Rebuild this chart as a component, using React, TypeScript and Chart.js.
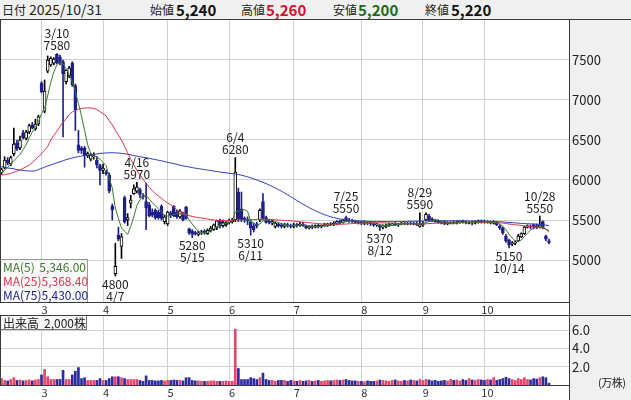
import React, { useEffect, useRef } from "react";
import { Chart, registerables } from "chart.js";

Chart.register(...registerables);

const FONT = "'Noto Sans CJK JP', 'Noto Sans', sans-serif";
const YEAR = "2025";

// trading days shown, by month
const tradingMonths = [2, 3, 4, 5, 6, 7, 8, 9, 10];
const febDays = [10, 12, 13, 14, 17, 18, 19, 20, 21, 25, 26, 27, 28];
const marDays = [3, 4, 5, 6, 7, 10, 11, 12, 13, 14, 17, 18, 19, 21, 24, 25, 26, 27, 28, 31];
const aprDays = [1, 2, 3, 4, 7, 8, 9, 10, 11, 14, 15, 16, 17, 18, 21, 22, 23, 24, 25, 28, 30];
const mayDays = [1, 2, 7, 8, 9, 12, 13, 14, 15, 16, 19, 20, 21, 22, 23, 26, 27, 28, 29, 30];
const junDays = [2, 3, 4, 5, 6, 9, 10, 11, 12, 13, 16, 17, 18, 19, 20, 23, 24, 25, 26, 27, 30];
const julDays = [1, 2, 3, 4, 7, 8, 9, 10, 11, 14, 15, 16, 17, 18, 22, 23, 24, 25, 28, 29, 30, 31];
const augDays = [1, 4, 5, 6, 7, 8, 12, 13, 14, 15, 18, 19, 20, 21, 22, 25, 26, 27, 28, 29];
const sepDays = [1, 2, 3, 4, 5, 8, 9, 10, 11, 12, 16, 17, 18, 19, 22, 24, 25, 26, 29, 30];
const octDays = [1, 2, 3, 6, 7, 8, 9, 10, 14, 15, 16, 17, 20, 21, 22, 23, 24, 27, 28, 29, 30, 31];
const tradingDays = [febDays, marDays, aprDays, mayDays, junDays, julDays, augDays, sepDays, octDays];

const open = [
  6090, 6150, 6250, 6200, 6330, 6460, 6400, 6590, 6520, 6600, 6690, 6640, 6700,
  7210, 6860, 7360, 7440, 7460, 7570, 7540, 7480, 7230, 7300, 7460, 7180, 6440, 6400, 6400, 6300, 6260, 6290, 6250, 6180,
  6120, 6100, 6060, 5670, 4830, 5310, 5170, 5780, 5500, 5710, 5830, 5860, 5880, 5800, 5730, 5690, 5600, 5620, 5600, 5670, 5480,
  5450, 5590, 5670, 5600, 5540, 5580, 5660, 5390, 5360, 5340, 5320, 5340, 5360, 5330, 5370, 5380, 5400, 5500, 5430, 5440,
  5470, 5480, 5500, 5850, 5640, 5520, 5510, 5480, 5420, 5450, 5500, 5730, 5530, 5480, 5460, 5420, 5450, 5440, 5420, 5440, 5430,
  5420, 5440, 5430, 5450, 5420, 5400, 5420, 5410, 5430, 5420, 5430, 5440, 5450, 5440, 5460, 5480, 5470, 5530, 5500, 5490, 5480, 5470,
  5480, 5460, 5470, 5460, 5450, 5440, 5430, 5410, 5420, 5430, 5440, 5450, 5440, 5450, 5460, 5450, 5460, 5450, 5460, 5420,
  5440, 5500, 5550, 5510, 5490, 5480, 5470, 5480, 5450, 5460, 5470, 5460, 5470, 5480, 5470, 5460, 5470, 5460, 5470, 5490,
  5480, 5470, 5480, 5460, 5470, 5420, 5400, 5300, 5250, 5200, 5210, 5240, 5290, 5330, 5410, 5420, 5440, 5430, 5410, 5480, 5300, 5240,
];
const high = [
  6150, 6290, 6280, 6300, 6650, 6500, 6550, 6620, 6620, 6700, 6720, 6760, 6810,
  7230, 7250, 7550, 7540, 7530, 7580, 7560, 7500, 7380, 7420, 7480, 7200, 6620, 6420, 6420, 6350, 6330, 6340, 6290, 6200,
  6200, 6120, 6090, 5700, 5210, 5410, 5330, 5800, 5580, 5810, 5940, 5970, 5900, 5830, 5960, 5720, 5640, 5640, 5620, 5690, 5560,
  5610, 5610, 5680, 5620, 5630, 5600, 5670, 5400, 5380, 5360, 5360, 5370, 5380, 5390, 5420, 5450, 5500, 5510, 5500, 5480,
  5510, 5520, 6280, 5900, 5850, 5540, 5540, 5500, 5460, 5470, 5640, 5830, 5550, 5500, 5500, 5470, 5460, 5460, 5460, 5460, 5450,
  5460, 5460, 5470, 5470, 5440, 5430, 5440, 5440, 5450, 5440, 5460, 5460, 5470, 5480, 5490, 5500, 5510, 5550, 5520, 5510, 5500, 5490,
  5490, 5490, 5480, 5480, 5470, 5460, 5440, 5440, 5450, 5460, 5460, 5470, 5460, 5470, 5480, 5470, 5480, 5470, 5480, 5590,
  5480, 5590, 5570, 5530, 5510, 5500, 5490, 5490, 5480, 5480, 5490, 5490, 5490, 5500, 5490, 5480, 5490, 5490, 5500, 5500,
  5500, 5490, 5490, 5490, 5480, 5440, 5410, 5320, 5260, 5230, 5240, 5320, 5340, 5420, 5440, 5440, 5450, 5450, 5550, 5490, 5310, 5260,
];
const low = [
  6070, 6140, 6190, 6180, 6300, 6370, 6380, 6510, 6500, 6580, 6640, 6620, 6680,
  7090, 6840, 7340, 7420, 7440, 7450, 7440, 6540, 7200, 7280, 7170, 6620, 6340, 6330, 6160, 6280, 6240, 6260, 6150, 5940,
  6080, 6060, 5840, 5500, 4800, 5240, 5020, 5460, 5430, 5650, 5820, 5840, 5780, 5760, 5380, 5540, 5540, 5510, 5510, 5500, 5450,
  5430, 5530, 5540, 5520, 5520, 5490, 5510, 5320, 5280, 5310, 5300, 5320, 5320, 5320, 5350, 5370, 5380, 5400, 5410, 5420,
  5450, 5460, 5480, 5480, 5480, 5470, 5440, 5310, 5350, 5400, 5480, 5500, 5460, 5450, 5440, 5400, 5410, 5400, 5400, 5410, 5400,
  5400, 5410, 5420, 5420, 5390, 5390, 5390, 5400, 5400, 5400, 5420, 5420, 5430, 5430, 5440, 5450, 5460, 5480, 5470, 5470, 5460, 5450,
  5440, 5440, 5440, 5430, 5420, 5420, 5370, 5390, 5400, 5420, 5430, 5430, 5420, 5440, 5440, 5440, 5440, 5440, 5430, 5410,
  5420, 5490, 5490, 5480, 5470, 5460, 5450, 5440, 5440, 5450, 5450, 5450, 5460, 5460, 5450, 5450, 5440, 5450, 5460, 5460,
  5460, 5460, 5450, 5450, 5430, 5380, 5320, 5220, 5150, 5180, 5190, 5230, 5280, 5320, 5400, 5390, 5390, 5390, 5400, 5390, 5240, 5200,
];
const close = [
  6130, 6250, 6210, 6280, 6450, 6390, 6500, 6530, 6600, 6680, 6650, 6700, 6790,
  7100, 7110, 7500, 7520, 7510, 7460, 7460, 7330, 7370, 7400, 7190, 6880, 6370, 6370, 6310, 6330, 6310, 6300, 6190, 6120,
  6150, 6080, 5860, 5630, 4920, 5260, 5290, 5480, 5530, 5750, 5890, 5910, 5820, 5790, 5650, 5550, 5560, 5530, 5530, 5520, 5540,
  5600, 5560, 5550, 5540, 5610, 5500, 5520, 5340, 5320, 5330, 5340, 5350, 5340, 5370, 5400, 5440, 5490, 5430, 5470, 5460,
  5490, 5500, 6100, 5510, 5500, 5500, 5490, 5400, 5380, 5430, 5620, 5520, 5470, 5470, 5480, 5460, 5430, 5420, 5440, 5430, 5420,
  5440, 5430, 5450, 5430, 5400, 5420, 5410, 5430, 5420, 5430, 5440, 5450, 5440, 5460, 5480, 5470, 5500, 5490, 5490, 5480, 5470, 5480,
  5460, 5470, 5460, 5450, 5440, 5450, 5410, 5420, 5430, 5440, 5450, 5440, 5450, 5460, 5450, 5460, 5450, 5460, 5440, 5440,
  5460, 5570, 5500, 5490, 5480, 5470, 5460, 5450, 5460, 5470, 5460, 5470, 5480, 5470, 5460, 5470, 5460, 5480, 5490, 5480,
  5470, 5480, 5460, 5470, 5440, 5400, 5340, 5240, 5190, 5210, 5220, 5300, 5330, 5410, 5420, 5410, 5410, 5410, 5440, 5400, 5260, 5220,
];
// volume in 万株
const volume = [
  0.7, 0.5, 0.45, 0.6, 0.8, 0.5, 0.55, 0.45, 0.5, 0.55, 0.45, 0.55, 0.6,
  1.1, 1.7, 0.9, 0.6, 0.6, 0.6, 0.6, 1.6, 0.6, 0.6, 1.1, 1.5, 1.9, 0.7, 0.8, 0.5, 0.5, 0.5, 0.5, 0.7,
  0.5, 0.5, 0.7, 0.9, 0.9, 0.9, 0.8, 0.7, 0.6, 0.6, 0.6, 0.6, 0.5, 0.4, 1.0, 0.5, 0.5, 0.45, 0.45, 0.5, 0.45,
  0.5, 0.5, 0.55, 0.5, 0.5, 0.45, 0.8, 0.8, 0.5, 0.45, 0.45, 0.4, 0.4, 0.4, 0.45, 0.45, 0.4, 0.4, 0.4, 0.45,
  0.4, 0.4, 6.1, 1.8, 0.6, 0.6, 0.6, 0.8, 0.7, 0.6, 0.8, 1.3, 0.6, 0.5, 0.5, 0.4, 0.5, 0.5, 0.5, 0.4, 0.5,
  0.45, 0.4, 0.5, 0.4, 0.45, 0.5, 0.4, 0.45, 0.5, 0.4, 0.45, 0.5, 0.45, 0.5, 0.55, 0.5, 0.55, 0.6, 0.5, 0.45, 0.45, 0.4,
  0.4, 0.35, 0.45, 0.4, 0.4, 0.45, 0.55, 0.5, 0.45, 0.4, 0.5, 0.55, 0.45, 0.4, 0.5, 0.45, 0.55, 0.5, 0.45, 0.6,
  0.5, 0.6, 0.55, 0.45, 0.5, 0.4, 0.45, 0.5, 0.45, 0.6, 0.5, 0.55, 0.45, 0.6, 0.5, 0.7, 0.55, 0.5, 0.6, 0.55,
  0.5, 0.6, 0.55, 0.8, 0.5, 0.6, 0.7, 0.85, 0.7, 0.6, 0.5, 0.7, 0.6, 0.8, 0.6, 0.55, 0.7, 0.65, 0.8, 0.9, 0.8, 0.2,
];
const ma5 = [
  6090, 6120, 6160, 6200, 6240, 6280, 6320, 6380, 6440, 6530, 6600, 6660, 6730,
  6830, 6900, 7050, 7220, 7350, 7440, 7480, 7450, 7390, 7320, 7230, 7100, 6960, 6800, 6620, 6440, 6330, 6300, 6290, 6260,
  6220, 6180, 6030, 5900, 5650, 5520, 5400, 5360, 5320, 5420, 5540, 5680, 5750, 5800, 5810, 5760, 5720, 5680, 5640, 5600, 5560,
  5550, 5560, 5570, 5580, 5580, 5570, 5560, 5500, 5450, 5400, 5360, 5340, 5340, 5350, 5360, 5390, 5420, 5440, 5460, 5460,
  5470, 5480, 5600, 5610, 5620, 5630, 5610, 5480, 5460, 5440, 5450, 5490, 5500, 5510, 5500, 5480, 5470, 5450, 5440, 5430, 5430,
  5430, 5430, 5435, 5440, 5430, 5425, 5420, 5415, 5415, 5420, 5425, 5430, 5435, 5445, 5455, 5460, 5470, 5480, 5490, 5490, 5488, 5485,
  5478, 5472, 5466, 5462, 5456, 5452, 5442, 5434, 5430, 5430, 5430, 5436, 5442, 5448, 5450, 5452, 5454, 5456, 5454, 5450,
  5450, 5470, 5480, 5490, 5500, 5502, 5480, 5470, 5464, 5462, 5462, 5464, 5466, 5470, 5470, 5468, 5466, 5468, 5472, 5476,
  5478, 5478, 5476, 5470, 5464, 5448, 5422, 5378, 5322, 5276, 5240, 5232, 5250, 5294, 5336, 5374, 5396, 5412, 5418, 5416, 5384, 5346,
];
const ma25 = [
  6062, 6068, 6075, 6083, 6097, 6111, 6125, 6145, 6165, 6185, 6220, 6255, 6290,
  6330, 6370, 6420, 6500, 6560, 6610, 6670, 6720, 6765, 6820, 6850, 6870, 6885, 6895, 6900, 6902, 6900, 6895, 6880, 6855,
  6830, 6800, 6740, 6690, 6620, 6560, 6500, 6420, 6340, 6260, 6190, 6120, 6060, 6010, 5960, 5910, 5870, 5830, 5800, 5770, 5740,
  5710, 5690, 5660, 5630, 5605, 5585, 5570, 5555, 5545, 5537, 5530, 5525, 5520, 5512, 5506, 5500, 5495, 5492, 5490, 5490,
  5492, 5495, 5498, 5500, 5502, 5503, 5505, 5506, 5507, 5508, 5508, 5508, 5507, 5505, 5503, 5502, 5500, 5498, 5495, 5492, 5490,
  5486, 5482, 5478, 5474, 5470, 5466, 5462, 5458, 5455, 5452, 5450, 5448, 5446, 5445, 5445, 5446, 5448, 5450, 5452, 5455, 5458, 5460,
  5462, 5463, 5464, 5465, 5466, 5466, 5465, 5464, 5463, 5461, 5459, 5457, 5455, 5454, 5453, 5452, 5451, 5450, 5450, 5450,
  5451, 5453, 5455, 5457, 5459, 5461, 5462, 5463, 5464, 5465, 5466, 5467, 5468, 5469, 5470, 5470, 5470, 5470, 5471, 5472,
  5472, 5472, 5471, 5470, 5468, 5465, 5461, 5456, 5450, 5445, 5440, 5436, 5432, 5428, 5424, 5420, 5416, 5412, 5407, 5400, 5385, 5368.4,
];
const ma75 = [
  6170, 6160, 6150, 6145, 6140, 6130, 6125, 6120, 6115, 6112, 6112, 6115, 6130,
  6145, 6160, 6175, 6187, 6200, 6215, 6229, 6240, 6255, 6265, 6275, 6285, 6292, 6300, 6305, 6310, 6312, 6318, 6325, 6333,
  6336, 6338, 6340, 6341, 6340, 6337, 6333, 6328, 6322, 6315, 6305, 6298, 6291, 6284, 6278, 6271, 6263, 6255, 6247, 6240, 6230,
  6222, 6212, 6205, 6195, 6185, 6177, 6170, 6162, 6155, 6148, 6142, 6136, 6130, 6124, 6118, 6112, 6106, 6100, 6095, 6090,
  6085, 6080, 6075, 6068, 6060, 6050, 6040, 6028, 6015, 6000, 5985, 5970, 5955, 5938, 5920, 5900, 5880, 5860, 5838, 5815, 5792,
  5768, 5744, 5720, 5698, 5676, 5655, 5635, 5616, 5598, 5582, 5567, 5553, 5540, 5530, 5521, 5513, 5506, 5500, 5496, 5492, 5490, 5488,
  5486, 5485, 5484, 5483, 5482, 5481, 5480, 5480, 5479, 5479, 5479, 5480, 5480, 5481, 5482, 5483, 5484, 5485, 5486, 5487,
  5488, 5489, 5490, 5490, 5490, 5490, 5490, 5490, 5490, 5490, 5489, 5489, 5488, 5488, 5487, 5487, 5486, 5486, 5485, 5485,
  5484, 5483, 5482, 5481, 5480, 5478, 5476, 5473, 5470, 5467, 5464, 5461, 5458, 5456, 5454, 5452, 5450, 5448, 5446, 5442, 5436, 5430,
];

const priceTicks = [5000, 5500, 6000, 6500, 7000, 7500];
const volumeTicks = [2, 4, 6];
const markers = [
  { date: "3/10", side: "high" },
  { date: "4/7", side: "low" },
  { date: "4/16", side: "high" },
  { date: "5/15", side: "low" },
  { date: "6/4", side: "high" },
  { date: "6/11", side: "low" },
  { date: "7/25", side: "high" },
  { date: "8/12", side: "low" },
  { date: "8/29", side: "high" },
  { date: "10/14", side: "low" },
  { date: "10/28", side: "high" },
];

const TOTAL_SLOTS = 185;

// colours
const DOWN = "#1f1f8c";
const VOL_UP = "#e4486a";
const VOL_DOWN = "#2c2c9e";
const VOL_FLAT = "#a8a8a8";
const MA_COLORS = ["#3b7a30", "#d8364c", "#2d3fbd"];
const GRID = "#cfcfcf";
const PANEL = "#f0f0f0";
const FRAME = "#3a3a3a";

// derived labels
const dates: string[] = [];
const monthTick: Record<number, string> = {};
tradingMonths.forEach((m, k) => {
  tradingDays[k].forEach((d, j) => {
    if (j === 0 && k > 0) monthTick[dates.length] = String(m);
    dates.push(`${m}/${d}`);
  });
});
const labels = Array.from({ length: TOTAL_SLOTS }, (_, i) => dates[i] ?? `pad${i}`);
const last = close.length - 1;
const fmt = (v: number, d = 0) =>
  v.toLocaleString("en-US", { minimumFractionDigits: d, maximumFractionDigits: d });

function xScale(h: number) {
  return {
    type: "category",
    offset: true,
    grid: {
      offset: false,
      drawTicks: false,
      color: (c: any) => (monthTick[c.index] ? GRID : "rgba(0,0,0,0)"),
    },
    border: { display: false },
    ticks: {
      autoSkip: false,
      maxRotation: 0,
      minRotation: 0,
      padding: 1,
      labelOffset: 3,
      color: "#333",
      font: { size: 11, family: FONT },
      callback: (_v: any, i: number) => monthTick[i] ?? "",
    },
    afterFit: (s: any) => {
      s.height = h;
      s.paddingLeft = 0;
      s.paddingRight = 0;
    },
  };
}

function yAfterFit(s: any) {
  s.width = 62;
  s.paddingTop = 0;
  s.paddingBottom = 0;
}

function framePlugin(topLine: boolean) {
  return {
    id: "frame",
    beforeDraw(chart: any) {
      const { ctx, chartArea: a, width, height } = chart;
      ctx.save();
      ctx.fillStyle = "#fff";
      ctx.fillRect(0, 0, width, height);
      ctx.fillStyle = PANEL;
      ctx.fillRect(a.right, 0, width - a.right, height);
      ctx.restore();
    },
    afterDraw(chart: any) {
      const { ctx, chartArea: a, width, height } = chart;
      ctx.save();
      ctx.strokeStyle = FRAME;
      ctx.lineWidth = 1;
      ctx.beginPath();
      ctx.moveTo(a.right + 0.5, 0);
      ctx.lineTo(a.right + 0.5, height);
      ctx.moveTo(0, a.bottom + 0.5);
      ctx.lineTo(a.right, a.bottom + 0.5);
      ctx.moveTo(0.5, 0);
      ctx.lineTo(0.5, a.bottom);
      if (topLine) {
        ctx.moveTo(0, 0.5);
        ctx.lineTo(width, 0.5);
      }
      ctx.stroke();
      ctx.restore();
    },
  };
}

const markerPlugin = {
  id: "markers",
  afterDatasetsDraw(chart: any) {
    const { ctx, scales } = chart;
    ctx.save();
    ctx.font = `12px ${FONT}`;
    ctx.fillStyle = "#1a1a1a";
    ctx.textAlign = "center";
    ctx.textBaseline = "middle";
    markers.forEach((m) => {
      const i = dates.indexOf(m.date);
      if (i < 0) return;
      const price = m.side === "high" ? high[i] : low[i];
      const px = scales.x.getPixelForValue(i);
      const py = scales.y.getPixelForValue(price);
      if (m.side === "high") {
        ctx.fillText(m.date, px, py - 20);
        ctx.fillText(String(price), px, py - 8);
      } else {
        ctx.fillText(String(price), px, py + 8);
        ctx.fillText(m.date, px, py + 20);
      }
    });
    ctx.restore();
  },
};

export default function App() {
  const priceRef = useRef<HTMLCanvasElement>(null);
  const volRef = useRef<HTMLCanvasElement>(null);

  useEffect(() => {
    const isUp = close.map((c, i) => c >= open[i]);
    const priceChart = new Chart(priceRef.current as HTMLCanvasElement, {
      type: "bar",
      data: {
        labels,
        datasets: [
          { type: "line", data: ma5, borderColor: MA_COLORS[0], borderWidth: 1, pointRadius: 0, order: 1 },
          { type: "line", data: ma25, borderColor: MA_COLORS[1], borderWidth: 1, pointRadius: 0, order: 1 },
          { type: "line", data: ma75, borderColor: MA_COLORS[2], borderWidth: 1, pointRadius: 0, order: 1 },
          {
            type: "bar",
            data: open.map((o, i) => [o, close[i]]),
            backgroundColor: isUp.map((u) => (u ? "#ffffff" : DOWN)),
            borderColor: isUp.map((u) => (u ? "#000000" : DOWN)),
            borderWidth: 1,
            borderSkipped: false,
            barThickness: 3,
            minBarLength: 1,
            grouped: false,
            order: 2,
          },
          {
            type: "bar",
            data: low.map((l, i) => [l, high[i]]),
            backgroundColor: isUp.map((u) => (u ? "#000000" : DOWN)),
            barThickness: 1,
            grouped: false,
            order: 3,
          },
        ] as any,
      },
      options: {
        animation: false,
        responsive: false,
        devicePixelRatio: 1,
        events: [],
        layout: { padding: 0 },
        plugins: { legend: { display: false }, tooltip: { enabled: false } },
        scales: {
          x: xScale(13) as any,
          y: {
            position: "right",
            min: 4475,
            max: 8000,
            afterBuildTicks: (s: any) => {
              s.ticks = priceTicks.map((v) => ({ value: v }));
            },
            grid: { color: GRID, drawTicks: false },
            border: { display: false },
            ticks: {
              padding: 3,
              color: "#222",
              font: { size: 13, family: FONT },
              callback: (v: any) => String(v),
            },
            afterFit: yAfterFit,
          } as any,
        },
      },
      plugins: [framePlugin(false), markerPlugin],
    });

    const volChart = new Chart(volRef.current as HTMLCanvasElement, {
      type: "bar",
      data: {
        labels,
        datasets: [
          {
            data: volume,
            backgroundColor: close.map((c, i) =>
              c > open[i] ? VOL_UP : c < open[i] ? VOL_DOWN : VOL_FLAT
            ),
            barThickness: 2,
            grouped: false,
          } as any,
        ],
      },
      options: {
        animation: false,
        responsive: false,
        devicePixelRatio: 1,
        events: [],
        layout: { padding: 0 },
        plugins: { legend: { display: false }, tooltip: { enabled: false } },
        scales: {
          x: xScale(15) as any,
          y: {
            position: "right",
            min: 0,
            max: 7.64,
            afterBuildTicks: (s: any) => {
              s.ticks = volumeTicks.map((v) => ({ value: v }));
            },
            grid: { color: GRID, drawTicks: false },
            border: { display: false },
            ticks: {
              padding: 3,
              color: "#222",
              font: { size: 13, family: FONT },
              callback: (v: any) => Number(v).toFixed(1),
            },
            afterFit: yAfterFit,
          } as any,
        },
      },
      plugins: [framePlugin(true)],
    });

    return () => {
      priceChart.destroy();
      volChart.destroy();
    };
  }, []);

  const abs: React.CSSProperties = { position: "absolute", top: 0, lineHeight: "19px", whiteSpace: "nowrap" };
  const lab: React.CSSProperties = { ...abs, fontSize: 12, color: "#222" };
  const num: React.CSSProperties = { ...abs, fontSize: 15, fontWeight: 700, color: "#111" };

  const maRows = [
    { name: "MA(5)", value: ma5[last], color: MA_COLORS[0] },
    { name: "MA(25)", value: ma25[last], color: MA_COLORS[1] },
    { name: "MA(75)", value: ma75[last], color: "#1f1f8c" },
  ];

  return (
    <div
      style={{
        position: "fixed",
        left: 0,
        top: 0,
        width: 631,
        height: 400,
        background: "#fff",
        overflow: "hidden",
        fontFamily: FONT,
      }}
    >
      <div
        style={{
          position: "absolute",
          left: 0,
          top: 0,
          width: 631,
          height: 19,
          background: PANEL,
          borderBottom: `1px solid ${FRAME}`,
        }}
      >
        <span style={{ ...lab, left: 2 }}>日付</span>
        <span style={{ ...abs, left: 29, fontSize: 14, color: "#222" }}>{`${YEAR}/${dates[last]
          .split("/")
          .map((p) => p.padStart(2, "0"))
          .join("/")}`}</span>
        <span style={{ ...lab, left: 150 }}>始値</span>
        <span style={{ ...num, left: 176 }}>{fmt(open[last])}</span>
        <span style={{ ...lab, left: 241 }}>高値</span>
        <span style={{ ...num, left: 266, color: "#d4102c" }}>{fmt(high[last])}</span>
        <span style={{ ...lab, left: 333 }}>安値</span>
        <span style={{ ...num, left: 358, color: "#1d6b1d" }}>{fmt(low[last])}</span>
        <span style={{ ...lab, left: 425 }}>終値</span>
        <span style={{ ...num, left: 451 }}>{fmt(close[last])}</span>
      </div>

      <canvas
        ref={priceRef}
        width={631}
        height={295}
        style={{ position: "absolute", left: 0, top: 20, width: 631, height: 295 }}
      />
      <canvas
        ref={volRef}
        width={631}
        height={85}
        style={{ position: "absolute", left: 0, top: 315, width: 631, height: 85 }}
      />

      <div
        style={{
          position: "absolute",
          left: 0,
          top: 259,
          width: 88,
          height: 43,
          boxSizing: "border-box",
          background: "rgba(248,248,248,0.85)",
          borderTop: "1px solid #999",
          borderRight: "1px solid #999",
          borderLeft: `1px solid ${FRAME}`,
          fontSize: 12,
        }}
      >
        {maRows.map((r) => (
          <div
            key={r.name}
            style={{
              height: 14,
              lineHeight: "14px",
              display: "flex",
              justifyContent: "space-between",
              padding: "0 1px 0 2px",
              color: r.color,
            }}
          >
            <span>{r.name}</span>
            <span>{fmt(r.value, 2)}</span>
          </div>
        ))}
      </div>

      <div
        style={{
          position: "absolute",
          left: 0,
          top: 316,
          width: 87,
          height: 14,
          boxSizing: "border-box",
          background: "#f6f6f6",
          borderRight: "1px solid #777",
          borderBottom: "1px solid #777",
          borderLeft: `1px solid ${FRAME}`,
          fontSize: 12,
          lineHeight: "13px",
          color: "#222",
          whiteSpace: "nowrap",
        }}
      >
        <span style={{ position: "absolute", left: 2 }}>出来高</span>
        <span style={{ position: "absolute", left: 43 }}>{`${fmt(volume[last] * 10000)}株`}</span>
      </div>

      <span
        style={{
          position: "absolute",
          left: 598,
          top: 375,
          fontSize: 11,
          lineHeight: "14px",
          color: "#222",
          whiteSpace: "nowrap",
          letterSpacing: -0.5,
        }}
      >
        (万株)
      </span>
    </div>
  );
}
